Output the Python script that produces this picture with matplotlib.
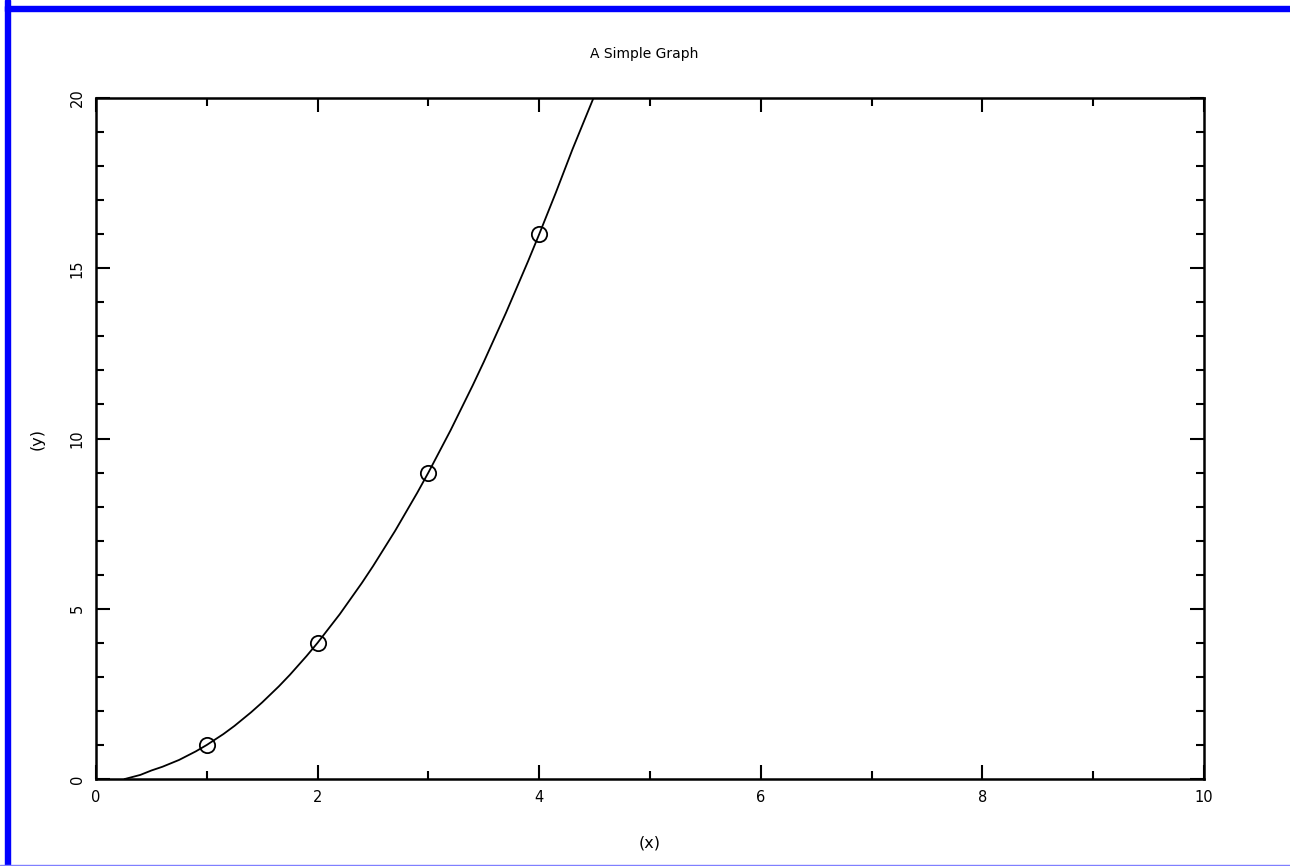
import matplotlib
matplotlib.use("Agg")
import matplotlib.pyplot as plt
from matplotlib.patches import Rectangle
from matplotlib.ticker import MultipleLocator

W, H = 1290, 866

# curve values
curve_x = [0.26, 0.4, 0.5, 0.6, 0.75, 0.9, 1.0, 1.15, 1.25, 1.4, 1.5, 1.65, 1.75,
           1.9, 2.0, 2.2, 2.4, 2.5, 2.7, 2.9, 3.0, 3.2, 3.4, 3.5, 3.7, 3.9,
           4.0, 4.15, 4.3, 4.49]
curve_y = [0.0, 0.12, 0.25, 0.36, 0.56, 0.81, 1.0, 1.32, 1.56, 1.96, 2.25, 2.72,
           3.06, 3.61, 4.0, 4.84, 5.76, 6.25, 7.29, 8.41, 9.0, 10.24, 11.56,
           12.25, 13.69, 15.21, 16.0, 17.22, 18.49, 20.0]

# marked points
pts_x = [1, 2, 3, 4]
pts_y = [1, 4, 9, 16]

fig = plt.figure(figsize=(W / 100, H / 100), dpi=100)
fig.patch.set_facecolor("white")

# blue frame round the picture
fig.patches.append(Rectangle((5 / W, 0), 5 / W, 1, transform=fig.transFigure,
                             color="#0000ff", zorder=0))
fig.patches.append(Rectangle((5 / W, 1 - 11 / H), 1, 5 / H, transform=fig.transFigure,
                             color="#0000ff", zorder=0))
fig.patches.append(Rectangle((0, 0), 1, 1.5 / H, transform=fig.transFigure,
                             color="#7f7fff", zorder=0))

ax = fig.add_axes([96 / W, 1 - 779 / H, (1204 - 96) / W, (779 - 98) / H])
ax.plot(curve_x, curve_y, color="black", lw=1.3)
ax.plot(pts_x, pts_y, "o", ms=11, mfc="none", mec="black", mew=1.3)

ax.set_xlim(0, 10)
ax.set_ylim(0, 20)
ax.xaxis.set_major_locator(MultipleLocator(2))
ax.xaxis.set_minor_locator(MultipleLocator(1))
ax.yaxis.set_major_locator(MultipleLocator(5))
ax.yaxis.set_minor_locator(MultipleLocator(1))
ax.tick_params(which="both", direction="in", top=True, right=True, width=1.5,
               labelsize=10.5, pad=8)
ax.tick_params(which="major", length=10)
ax.tick_params(which="minor", length=6)
for lab in ax.get_yticklabels():
    lab.set_rotation(90)
    lab.set_va("center")
for s in ax.spines.values():
    s.set_linewidth(1.8)

ax.set_title("A Simple Graph", fontsize=10, pad=29)
ax.title.set_position((0.495, 1))
ax.set_xlabel("(x)", fontsize=11.5, labelpad=22)
ax.set_ylabel("(y)", fontsize=11.5, labelpad=18)

fig.savefig("out.png", dpi=100)
